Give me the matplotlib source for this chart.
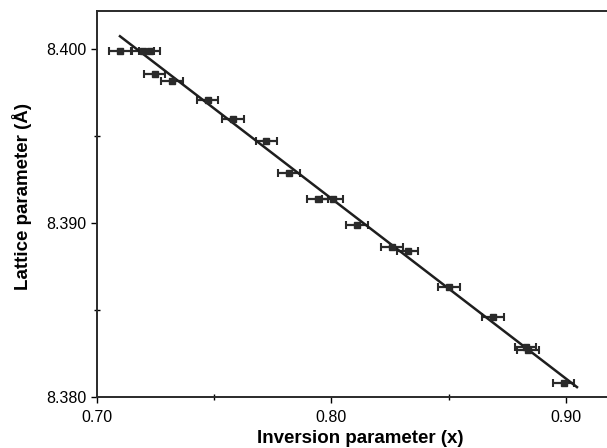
import matplotlib
matplotlib.use('Agg')
import matplotlib.pyplot as plt
from matplotlib.ticker import MultipleLocator, FormatStrFormatter

plt.rcParams['font.family'] = ['Liberation Sans', 'DejaVu Sans']

# inversion parameter x and lattice parameter a
inv_x = [0.7098, 0.7196, 0.7225, 0.7247, 0.7320, 0.7473, 0.7580, 0.7721,
         0.7819, 0.7942, 0.8006, 0.8109, 0.8258, 0.8326, 0.8501, 0.8689,
         0.8829, 0.8838, 0.8991]
lattice_a = [8.3999, 8.3999, 8.3999, 8.3986, 8.3982, 8.3971, 8.3960, 8.3947,
             8.3929, 8.3914, 8.3914, 8.3899, 8.3886, 8.3884, 8.3863, 8.3846,
             8.3829, 8.3827, 8.3808]
x_err = 0.0045

# fitted straight line
fit_x = [0.7098, 0.9047]
fit_y = [8.40075, 8.38057]

fig = plt.figure(figsize=(6.07, 4.48), dpi=100)
ax = fig.add_axes([0.1598, 0.1138, 0.8402, 0.8616])

ax.errorbar(inv_x, lattice_a, xerr=x_err, fmt='s', color='#2a2a2a',
            markersize=5, capsize=3, elinewidth=1.6, capthick=1.5)
ax.plot(fit_x, fit_y, color='#1e1e1e', lw=1.8)

ax.set_xlim(0.70, 0.9175)
ax.set_ylim(8.380, 8.4022)
ax.xaxis.set_major_locator(MultipleLocator(0.10))
ax.xaxis.set_minor_locator(MultipleLocator(0.05))
ax.yaxis.set_major_locator(MultipleLocator(0.010))
ax.yaxis.set_minor_locator(MultipleLocator(0.005))
ax.xaxis.set_major_formatter(FormatStrFormatter('%.2f'))
ax.yaxis.set_major_formatter(FormatStrFormatter('%.3f'))
ax.tick_params(which='major', direction='out', length=4, width=1, labelsize=11.5)
ax.tick_params(axis='x', which='major', pad=5)
ax.tick_params(which='minor', direction='inout', length=4, width=1)

ax.spines['right'].set_visible(False)
for s in ['left', 'bottom', 'top']:
    ax.spines[s].set_linewidth(1.4)
    ax.spines[s].set_color('#2a2a2a')

ax.set_xlabel('Inversion parameter (x)', fontsize=13.5, fontweight='bold')
ax.set_ylabel('Lattice parameter (Å)', fontsize=13.5, fontweight='bold')
ax.xaxis.set_label_coords(0.516, -0.085)
ax.yaxis.set_label_coords(-0.128, 0.52)

fig.savefig('out.png', dpi=100)
